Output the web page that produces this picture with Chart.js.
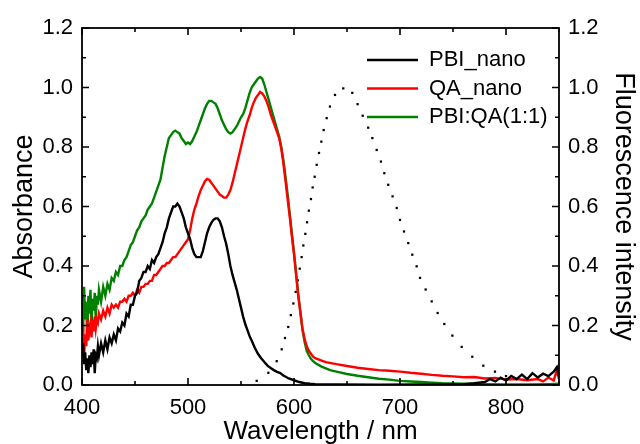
<!DOCTYPE html>
<html>
<head>
<meta charset="utf-8">
<script src="https://cdn.jsdelivr.net/npm/chart.js@4.4.1/dist/chart.umd.min.js"></script>
<style>
  html, body { margin: 0; padding: 0; background: #fff; }
  #wrap { width: 640px; height: 444px; position: relative; }
</style>
</head>
<body>
<div id="wrap"><canvas id="c" width="640" height="444"></canvas></div>
<script>
// ---------- data ----------
const seriesNames = ['PBI_nano', 'QA_nano', 'PBI:QA(1:1)'];
const seriesColors = ['#000000', '#ff0000', '#008000'];

const wlPBI = [400,401,402,403,404,405,406,407,408,409,410,411,412,413,414,415,416,
  418,420,422,424,426,428,430,432,434,436,438,440,442,444,446,448,450,452,454,456,458,460,
  462,464,466,468,470,472,474,476,478,480,482,484,486,488,490,492,494,496,498,500,502,504,
  506,508,510,512,514,516,518,520,522,524,526,528,530,532,534,536,538,540,542,544,546,548,
  550,552,554,556,558,560,563,566,569,572,575,578,581,584,587,590,595,600,605,610,615,620,
  640,680,720,760,770,780,785,790,795,800,805,810,815,820,825,830,835,840,845,848,850];
const absPBI = [0.10,0.14,0.07,0.11,0.05,0.09,0.04,0.10,0.06,0.11,0.07,0.12,0.04,0.10,0.09,0.13,0.10,
  0.14,0.11,0.15,0.12,0.16,0.14,0.17,0.15,0.19,0.18,0.21,0.20,0.24,0.23,0.27,0.27,0.30,0.31,0.35,0.36,0.38,0.38,
  0.40,0.39,0.42,0.41,0.43,0.44,0.46,0.48,0.51,0.53,0.56,0.58,0.60,0.60,0.61,0.60,0.58,0.56,0.53,0.51,0.49,0.46,
  0.44,0.43,0.43,0.43,0.45,0.48,0.51,0.53,0.545,0.555,0.56,0.56,0.55,0.53,0.50,0.475,0.44,0.40,0.37,0.345,0.32,0.29,
  0.26,0.23,0.205,0.185,0.165,0.15,0.125,0.105,0.09,0.077,0.065,0.057,0.05,0.044,0.04,0.032,0.022,0.016,0.01,0.006,0.004,0.003,
  0.002,0.001,0.002,0.003,0.006,0.01,0.02,0.012,0.025,0.015,0.03,0.02,0.035,0.02,0.04,0.025,0.038,0.03,0.045,0.06,0.03];

const wlQA = [400,401,402,403,404,405,406,407,408,409,410,411,412,413,414,415,416,
  418,420,422,424,426,428,430,432,434,436,438,440,442,444,446,448,450,452,454,456,458,460,
  462,464,466,468,470,472,474,476,478,480,482,484,486,488,490,492,494,496,498,500,502,504,
  506,508,510,512,514,516,518,520,522,524,526,528,530,532,534,536,538,540,542,544,546,548,
  550,552,554,556,558,560,562,564,566,568,570,572,574,576,578,580,582,584,586,588,590,592,
  594,596,598,600,602,604,606,608,610,612,614,616,618,620,
  626,630,640,650,660,670,680,690,700,710,720,730,740,750,760,770,780,790,800,810,820,830,835,840,845,848,850];
const absQA = [0.12,0.20,0.10,0.17,0.13,0.22,0.15,0.19,0.21,0.16,0.22,0.18,0.23,0.19,0.22,0.21,0.24,
  0.22,0.25,0.23,0.26,0.24,0.27,0.26,0.27,0.26,0.28,0.28,0.29,0.28,0.30,0.30,0.31,0.30,0.32,0.31,0.33,0.33,0.34,
  0.34,0.35,0.35,0.37,0.37,0.38,0.39,0.40,0.40,0.41,0.41,0.42,0.43,0.43,0.44,0.45,0.46,0.47,0.48,0.49,0.52,0.56,
  0.59,0.61,0.635,0.655,0.67,0.685,0.693,0.69,0.68,0.67,0.66,0.65,0.64,0.635,0.63,0.63,0.64,0.655,0.68,0.71,0.74,0.77,
  0.80,0.83,0.86,0.885,0.905,0.93,0.95,0.965,0.975,0.985,0.98,0.97,0.955,0.935,0.91,0.89,0.87,0.85,0.83,0.795,0.745,0.685,
  0.625,0.565,0.50,0.44,0.37,0.30,0.245,0.19,0.155,0.13,0.115,0.105,0.095,0.09,
  0.082,0.077,0.07,0.064,0.058,0.054,0.05,0.048,0.045,0.041,0.038,0.034,0.031,0.029,0.026,0.027,0.022,0.024,0.018,0.02,0.016,0.02,0.012,0.025,0.015,0.05,0.02];

const wlMix = [400,401,402,403,404,405,406,407,408,409,410,411,412,413,414,415,416,
  418,420,422,424,426,428,430,432,434,436,438,440,442,444,446,448,450,452,454,456,458,460,
  462,464,466,468,470,472,474,476,478,480,482,484,486,488,490,492,494,496,498,500,502,504,
  506,508,510,512,514,516,518,520,522,524,526,528,530,532,534,536,538,540,542,544,546,548,
  550,552,554,556,558,560,562,564,566,568,570,572,574,576,578,580,582,584,586,588,590,592,
  594,596,598,600,602,604,606,608,610,612,614,616,618,620,
  626,630,634,640,650,660,670,680,690,700,710,720,730,740,750,760,780,800,820,840,850];
const absMix = [0.30,0.18,0.33,0.22,0.28,0.15,0.30,0.24,0.32,0.20,0.29,0.25,0.31,0.22,0.30,0.27,0.32,
  0.28,0.33,0.30,0.34,0.32,0.36,0.35,0.38,0.37,0.40,0.40,0.42,0.43,0.45,0.47,0.48,0.50,0.52,0.53,0.55,0.56,0.57,
  0.59,0.60,0.61,0.63,0.65,0.67,0.69,0.73,0.77,0.80,0.83,0.84,0.85,0.855,0.85,0.845,0.83,0.82,0.81,0.815,0.81,0.82,
  0.835,0.85,0.87,0.89,0.91,0.93,0.945,0.955,0.955,0.95,0.945,0.93,0.91,0.89,0.875,0.86,0.85,0.845,0.85,0.86,0.87,0.885,
  0.90,0.91,0.93,0.955,0.98,1.0,1.01,1.02,1.03,1.035,1.03,1.01,0.985,0.96,0.935,0.91,0.885,0.86,0.835,0.80,0.755,0.70,
  0.64,0.575,0.51,0.445,0.375,0.305,0.245,0.185,0.145,0.115,0.10,0.088,0.08,0.074,
  0.062,0.056,0.05,0.045,0.037,0.031,0.026,0.021,0.018,0.014,0.012,0.01,0.008,0.006,0.005,0.004,0.003,0.002,0.002,0.003,0.004];

const wlFluo = [564.8,575.8,583.7,588.4,591.5,594.6,597,599.4,601.6,603.5,
  605.4,607.2,608.8,610.7,612.3,614,616,617.6,619.5,621.4,
  623.6,625.8,628,630.8,633.9,638.7,646.5,655,660,664.8,
  670,673.9,678,682,685.2,688.9,693,696.9,700,703.8,
  707.8,711.6,715.7,718.9,724.2,729.9,735.5,741.8,749.4,758.2,
  768.2,778.6,789.6,800];
const fluo = [0.014,0.041,0.08,0.12,0.158,0.195,0.235,0.274,0.313,0.352,
  0.391,0.43,0.469,0.508,0.547,0.586,0.625,0.664,0.70,0.74,
  0.78,0.818,0.857,0.897,0.936,0.975,0.997,0.982,0.944,0.905,
  0.865,0.83,0.79,0.751,0.712,0.673,0.634,0.595,0.555,0.516,
  0.477,0.438,0.399,0.36,0.321,0.281,0.242,0.205,0.166,0.128,
  0.095,0.065,0.045,0.03];

const xMajorTicks = [400, 500, 600, 700, 800];
const xMinorTicks = [450, 550, 650, 750, 850];
const yMajorTicks = [0, 0.2, 0.4, 0.6, 0.8, 1.0, 1.2];
const yMinorTicks = [0.1, 0.3, 0.5, 0.7, 0.9, 1.1];

// ---------- build ----------
const pts = (xs, ys) => xs.map((x, i) => ({x: x, y: ys[i]}));
const FONT = "'Liberation Sans', Arial, sans-serif";

const frameTicks = {
  id: 'frameTicks',
  afterLayout(chart) {
    const lg = chart.legend;
    if (!lg) return;
    const w = lg.width, h = lg.height;
    lg.left = 360.5; lg.right = lg.left + w;
    lg.top = 42.5; lg.bottom = lg.top + h;
  },
  afterDatasetsDraw(chart) {
    const {ctx, chartArea: a, scales} = chart;
    const x = scales.x, y = scales.y, y2 = scales.y2;
    ctx.save();
    ctx.strokeStyle = '#000';
    ctx.lineWidth = 1.6;
    ctx.beginPath();
    const vt = (v, len) => {
      const px = x.getPixelForValue(v);
      ctx.moveTo(px, a.bottom); ctx.lineTo(px, a.bottom - len);
      ctx.moveTo(px, a.top); ctx.lineTo(px, a.top + len);
    };
    const ht = (v, len) => {
      const pl = y.getPixelForValue(v), pr = y2.getPixelForValue(v);
      ctx.moveTo(a.left, pl); ctx.lineTo(a.left + len, pl);
      ctx.moveTo(a.right, pr); ctx.lineTo(a.right - len, pr);
    };
    xMajorTicks.forEach(v => vt(v, 7));
    xMinorTicks.forEach(v => vt(v, 4));
    yMajorTicks.forEach(v => ht(v, 7));
    yMinorTicks.forEach(v => ht(v, 4));
    ctx.stroke();
    ctx.lineWidth = 1.8;
    ctx.strokeRect(a.left, a.top, a.right - a.left, a.bottom - a.top);
    ctx.restore();
  }
};

const tickFont = {family: FONT, size: 22};
const xTitleFont = {family: FONT, size: 26, lineHeight: 1};
const yTitleFont = {family: FONT, size: 27, lineHeight: 1};

new Chart(document.getElementById('c'), {
  type: 'line',
  data: {
    datasets: [
      {label: seriesNames[0], data: pts(wlPBI, absPBI), borderColor: seriesColors[0], backgroundColor: seriesColors[0], borderWidth: 2.4, pointRadius: 0, yAxisID: 'y'},
      {label: seriesNames[1], data: pts(wlQA, absQA), borderColor: seriesColors[1], backgroundColor: seriesColors[1], borderWidth: 2.4, pointRadius: 0, yAxisID: 'y'},
      {label: seriesNames[2], data: pts(wlMix, absMix), borderColor: seriesColors[2], backgroundColor: seriesColors[2], borderWidth: 2.4, pointRadius: 0, yAxisID: 'y'},
      {label: 'Fluorescence', data: pts(wlFluo, fluo), showLine: false, pointStyle: 'rect', pointRadius: 1.6, pointBorderWidth: 0, pointBackgroundColor: '#000', borderColor: '#000', yAxisID: 'y2'}
    ]
  },
  options: {
    responsive: false,
    animation: false,
    devicePixelRatio: 1,
    layout: {padding: {top: 28, left: 0, right: 0, bottom: 0}},
    plugins: {
      tooltip: {enabled: false},
      legend: {
        position: 'chartArea',
        align: 'start',
        labels: {
          usePointStyle: true,
          pointStyle: 'line',
          pointStyleWidth: 51,
          padding: 6.5,
          color: '#000',
          font: {family: FONT, size: 22},
          filter: item => item.datasetIndex < 3
        }
      }
    },
    scales: {
      x: {
        type: 'linear', min: 400, max: 850,
        afterBuildTicks: s => { s.ticks = xMajorTicks.map(v => ({value: v})); },
        afterFit: s => { s.height = 59; },
        grid: {display: false, drawTicks: false},
        border: {display: false},
        ticks: {font: tickFont, color: '#000', padding: 10, maxRotation: 0},
        title: {display: true, text: 'Wavelength / nm', color: '#000', font: xTitleFont, padding: {top: 0, bottom: -1}}
      },
      y: {
        type: 'linear', position: 'left', min: 0, max: 1.2,
        afterBuildTicks: s => { s.ticks = yMajorTicks.map(v => ({value: v})); },
        afterFit: s => { s.width = 82; },
        grid: {display: false, drawTicks: false},
        border: {display: false},
        ticks: {font: tickFont, color: '#000', padding: 9, callback: v => Number(v).toFixed(1)},
        title: {display: true, text: 'Absorbance', color: '#000', font: yTitleFont, padding: {top: 11, bottom: 0}}
      },
      y2: {
        type: 'linear', position: 'right', min: 0, max: 1.2,
        afterBuildTicks: s => { s.ticks = yMajorTicks.map(v => ({value: v})); },
        afterFit: s => { s.width = 81; },
        grid: {display: false, drawTicks: false},
        border: {display: false},
        ticks: {font: tickFont, color: '#000', padding: 9, callback: v => Number(v).toFixed(1)},
        title: {display: true, text: 'Fluorescence intensity', color: '#000', font: yTitleFont, padding: {top: 3, bottom: 0}}
      }
    }
  },
  plugins: [frameTicks]
});
</script>
</body>
</html>
